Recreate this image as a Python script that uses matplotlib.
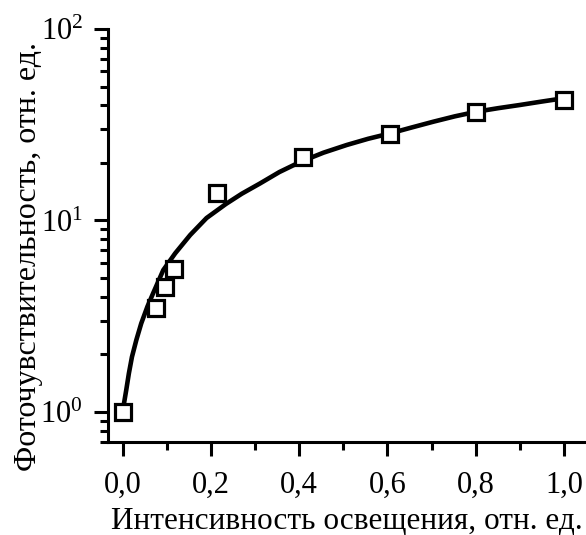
"""
Photosensitivity vs. illumination intensity (log y axis).
"""
import matplotlib
matplotlib.use('Agg')
import matplotlib.pyplot as plt
from matplotlib.ticker import MultipleLocator, LogLocator, NullFormatter, FuncFormatter

plt.rcParams['font.family'] = ['Liberation Serif', 'DejaVu Serif']
plt.rcParams['mathtext.fontset'] = 'custom'
plt.rcParams['mathtext.rm'] = 'Liberation Serif'
plt.rcParams['mathtext.it'] = 'Liberation Serif:italic'

# measured points
intensity = [0.0, 0.075, 0.096, 0.116, 0.213, 0.409, 0.606, 0.801, 1.0]
photosens = [1.0, 3.48, 4.48, 5.56, 13.9, 21.5, 28.3, 37.0, 42.6]

# fitted curve
fit_x = [0.0, 0.003, 0.008, 0.014, 0.021, 0.031, 0.042, 0.056, 0.069, 0.092,
         0.119, 0.153, 0.190, 0.234, 0.270, 0.311, 0.355, 0.402, 0.455, 0.508,
         0.556, 0.606, 0.655, 0.704, 0.753, 0.802, 0.851, 0.900, 0.950, 1.0]
fit_y = [1.0, 1.11, 1.30, 1.59, 1.94, 2.38, 2.90, 3.55, 4.17, 5.51,
         6.74, 8.40, 10.3, 12.2, 13.8, 15.6, 17.9, 20.2, 22.6, 24.8,
         26.7, 28.5, 30.6, 32.8, 35.0, 37.0, 38.6, 40.1, 41.8, 43.5]

x_label = 'Интенсивность освещения, отн. ед.'
y_label = 'Фоточувствительность, отн. ед.'

fig = plt.figure(figsize=(5.86, 5.35), dpi=100)
ax = fig.add_axes([108 / 586, 1 - 442 / 535, 1 - 108 / 586, (442 - 29) / 535])

ax.plot(fit_x, fit_y, color='black', lw=3.3, zorder=2, clip_on=False,
        solid_joinstyle='round')
ax.plot(intensity, photosens, ls='none', marker='s', ms=11.5, mew=2.3,
        mec='black', mfc='white', zorder=3, clip_on=False)

ax.set_yscale('log')
ax.set_xlim(-0.0333, 1.05)
ax.set_ylim(0.697, 100)

ax.xaxis.set_major_locator(MultipleLocator(0.2))
ax.xaxis.set_minor_locator(MultipleLocator(0.1))
ax.xaxis.set_major_formatter(FuncFormatter(lambda v, p: f'{v:.1f}'.replace('.', ',')))
ax.yaxis.set_major_locator(LogLocator(base=10, numticks=10))
ax.yaxis.set_minor_locator(LogLocator(base=10, subs=range(2, 10), numticks=10))
ax.yaxis.set_minor_formatter(NullFormatter())

for side in ['top', 'right']:
    ax.spines[side].set_visible(False)
for side in ['left', 'bottom']:
    ax.spines[side].set_linewidth(2.2)

ax.tick_params(which='major', direction='out', length=10, width=2.2, labelsize=22)
ax.tick_params(which='minor', direction='out', length=5.5, width=2.2)
ax.tick_params(axis='x', which='major', pad=11)
ax.tick_params(axis='y', which='major', pad=8)

ax.set_xlabel(x_label, fontsize=22.5, labelpad=5)
ax.set_ylabel(y_label, fontsize=23)
ax.yaxis.set_label_coords(-0.135, 0.45)

fig.savefig('out.png', dpi=100)
